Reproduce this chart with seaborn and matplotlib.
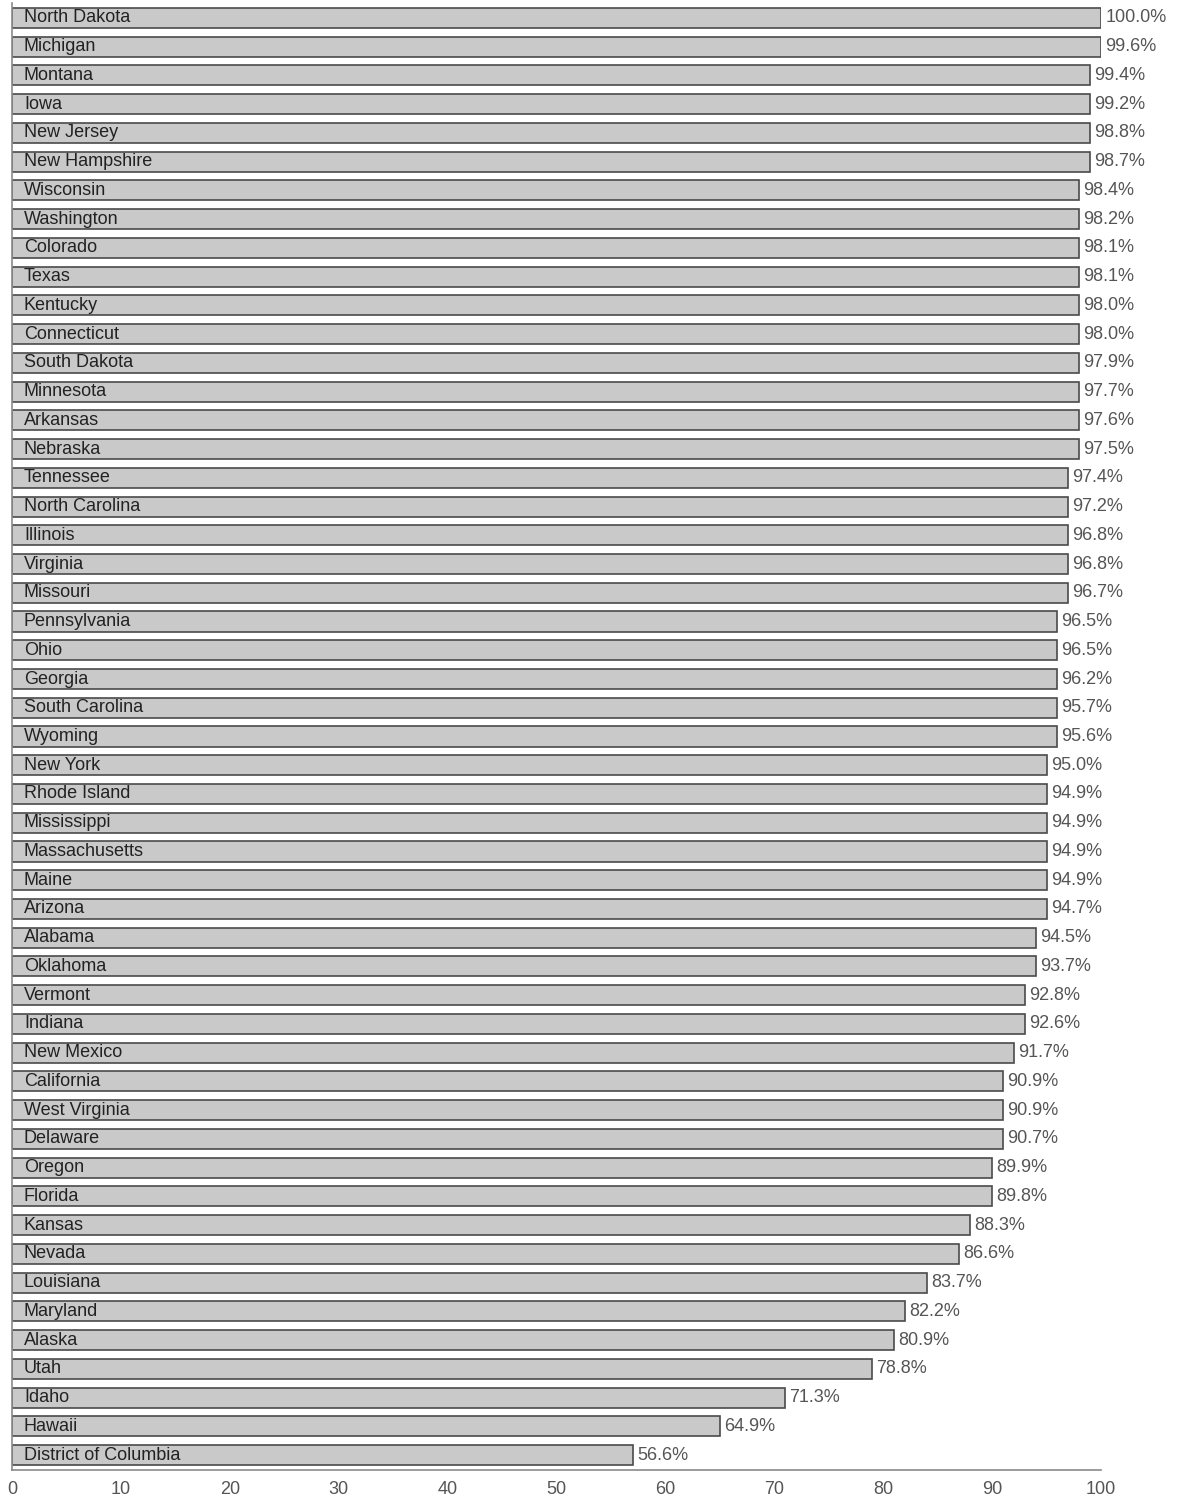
import numpy as np
import pandas as pd
import seaborn as sb
from matplotlib import pyplot as plt

states = ['North Dakota', 'Michigan', 'Montana', 'Iowa', 'New Jersey', 'New Hampshire',
          'Wisconsin', 'Washington', 'Colorado', 'Texas', 'Kentucky', 'Connecticut',
          'South Dakota', 'Minnesota', 'Arkansas', 'Nebraska', 'Tennessee', 'North Carolina',
          'Illinois', 'Virginia', 'Missouri', 'Pennsylvania', 'Ohio', 'Georgia',
          'South Carolina', 'Wyoming', 'New York', 'Rhode Island', 'Mississippi',
          'Massachusetts', 'Maine', 'Arizona', 'Alabama', 'Oklahoma', 'Vermont', 'Indiana',
          'New Mexico', 'California', 'West Virginia', 'Delaware', 'Oregon', 'Florida',
          'Kansas', 'Nevada', 'Louisiana', 'Maryland', 'Alaska', 'Utah', 'Idaho', 'Hawaii',
          'District of Columbia']
pct = [100.0, 99.6, 99.4, 99.2, 98.8, 98.7, 98.4, 98.2, 98.1, 98.1, 98.0, 98.0,
       97.9, 97.7, 97.6, 97.5, 97.4, 97.2, 96.8, 96.8, 96.7, 96.5, 96.5, 96.2,
       95.7, 95.6, 95.0, 94.9, 94.9, 94.9, 94.9, 94.7, 94.5, 93.7, 92.8, 92.6,
       91.7, 90.9, 90.9, 90.7, 89.9, 89.8, 88.3, 86.6, 83.7, 82.2, 80.9, 78.8,
       71.3, 64.9, 56.6]
x_ticks = [0, 10, 20, 30, 40, 50, 60, 70, 80, 90, 100]

# the original draws bars at whole-percent length
df = pd.DataFrame({'state': states, 'pct': pct})
df['bar'] = np.round(df['pct'])

sb.set_style('white')
plt.rcParams['font.family'] = ['Liberation Sans', 'DejaVu Sans']

fig = plt.figure(figsize=(11.77, 14.99), dpi=100)
ax = fig.add_axes([12 / 1177, 29 / 1499, 1089 / 1177, 1467 / 1499])

sb.barplot(data=df, x='bar', y='state', orient='h', color='#c9c9c9',
           edgecolor='#4a4a4a', linewidth=1.2, width=0.7, saturation=1, ax=ax)

for i, name in enumerate(states):
    ax.text(1.1, i, name, va='center', ha='left', fontsize=13, color='#222222')

ax.bar_label(ax.containers[0], labels=['%.1f%%' % v for v in pct], padding=3,
             fontsize=13, color='#555555')

ax.set_xlim(0, 100)
ax.set_ylim(50.52, -0.52)
ax.set_xticks(x_ticks)
ax.set_yticks([])
ax.set_xlabel('')
ax.set_ylabel('')
ax.tick_params(axis='x', length=0, pad=8, labelsize=13, labelcolor='#555555')
for side in ['top', 'right']:
    ax.spines[side].set_visible(False)
for side in ['left', 'bottom']:
    ax.spines[side].set_color('#8a8a8a')
    ax.spines[side].set_linewidth(1.2)

plt.savefig('out.png', dpi=100)
